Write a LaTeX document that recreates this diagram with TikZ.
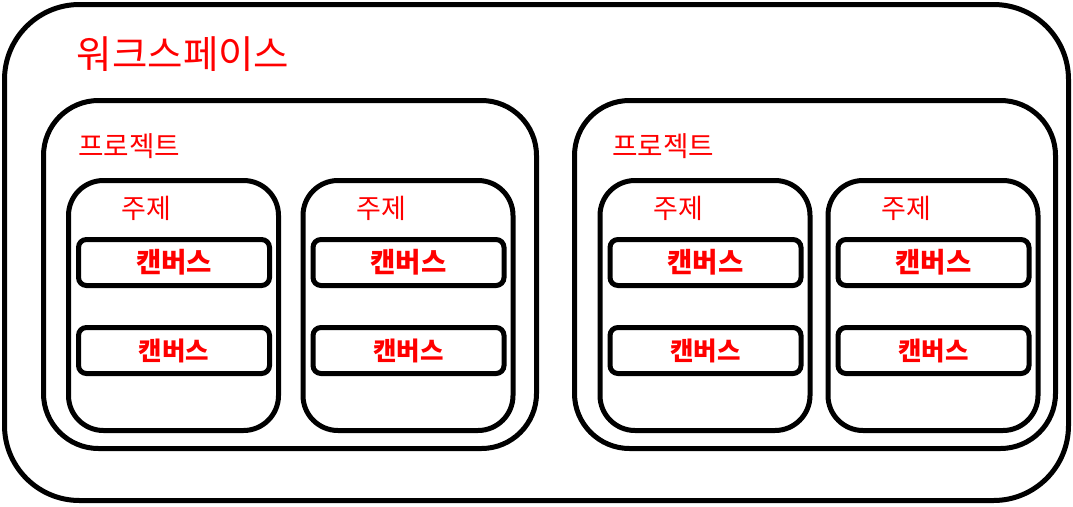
\documentclass[tikz,border=0pt]{standalone}
\usepackage{fontspec}
\newfontfamily\kr{Noto Sans CJK KR}
\tikzset{
  box/.style={draw=black, line width=5pt, rounded corners=#1, inner sep=0pt},
  lbl/.style={text=red, inner sep=0pt, font=\kr},
}
\begin{document}
\begin{tikzpicture}[x=1pt,y=-1pt]
\useasboundingbox (0,0) rectangle (1073,506);
% outer workspace
\node[box=75pt, minimum width=1064pt, minimum height=496pt] (ws) at (536.5,252.5) {};
\node[lbl, font=\kr\fontsize{38.5}{40}\selectfont] (wst) at (183,54) {워크스페이스};
% projects
\foreach \n/\cx/\w/\tx in {pa/290/493/129, pb/815/481/663}{
  \node[box=55pt, minimum width=\w pt, minimum height=348pt] (\n) at (\cx,274.5) {};
  \node[lbl, font=\kr\fontsize{27.7}{30}\selectfont] (\n t) at (\tx,146) {프로젝트};
}
% subjects and canvases
\foreach \n/\cx in {sa/173.5, sb/408, sc/705, sd/933}{
  \node[box=35pt, minimum width=210pt, minimum height=250pt] (\n) at (\cx,305.5) {};
  \node[lbl, font=\kr\fontsize{27}{30}\selectfont] (\n t) at (\cx-27,208) {주제};
  \node[box=8pt, minimum width=191pt, minimum height=46pt] (\n c1) at (\cx+0.5,262.5) {};
  \node[lbl, font=\kr\bfseries\fontsize{27.5}{30}\selectfont] (\n c1t) at (\n c1) {캔버스};
  \node[box=8pt, minimum width=191pt, minimum height=46pt] (\n c2) at (\cx+0.5,350.5) {};
  \node[lbl, font=\kr\bfseries\fontsize{25.5}{28}\selectfont] (\n c2t) at (\n c2) {캔버스};
}
\end{tikzpicture}
\end{document}
